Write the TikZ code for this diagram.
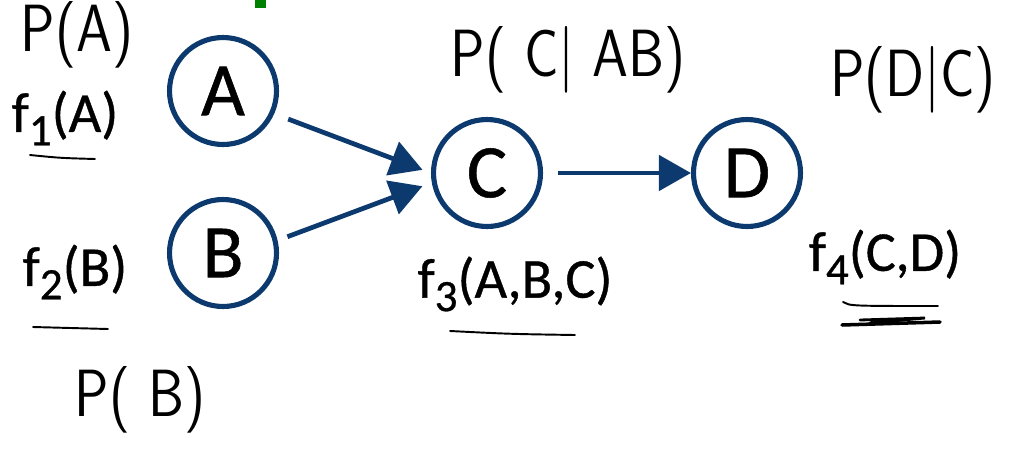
\documentclass[tikz,border=0pt]{standalone}
\usepackage{fontspec}
\setmainfont{Carlito}
\newfontfamily\gillish{Carlito}[FakeBold=0.7]
\usetikzlibrary{arrows.meta}
\definecolor{navy}{RGB}{12,58,110}
\definecolor{marker}{RGB}{0,128,0}
\newcommand{\sub}[1]{\raisebox{-0.24em}{\scalebox{0.8}{#1}}}
\newcommand{\hw}[1]{\scalebox{0.86}[1]{#1}}

\begin{document}
\begin{tikzpicture}[x=0.02cm,y=-0.02cm,
    var/.style={circle,draw=navy,line width=2.9pt,minimum size=2.14cm,inner sep=0pt,font=\gillish\fontsize{43}{46}\selectfont},
    arr/.style={draw=navy,line width=2.7pt,-{Triangle[length=0.64cm,width=0.7cm]}},
    lab/.style={inner sep=0pt,font=\gillish\fontsize{32}{36}\selectfont},
    hand/.style={inner sep=0pt,font=\sffamily\fontsize{38}{40}\selectfont},
    ink/.style={line width=1.1pt,line cap=round}]
    % Frame
    \useasboundingbox (0,0) rectangle (1010,453);
    \fill[marker] (255,0) rectangle (266,8);

    % Variables
    \node[var] (A) at (223,91) {A};
    \node[var] (B) at (223,253) {B};
    \node[var] (C) at (487,173) {C};
    \node[var] (D) at (747,173) {D};

    % Edges
    \draw[arr,shorten <=0.3cm,shorten >=0.18cm] (A.-24) -- (C.180);
    \draw[arr,shorten <=0.21cm,shorten >=0.2cm] (B.13) -- (C.190);
    \draw[arr,shorten <=0.3cm] (C) -- (D);

    % Factors
    \node[lab] (fA) at (65,118) {f\sub{1}(A)};
    \node[lab] (fB) at (75,272) {f\sub{2}(B)};
    \node[lab] (fC) at (515,284) {f\sub{3}(A,B,C)};
    \node[lab] (fD) at (885,257) {f\sub{4}(C,D)};

    % Handwritten notes
    \node[hand] (pA) at (77,35) {\hw{P(A)}};
    \node[hand] (pB) at (140,400) {\hw{P( B)}};
    \node[hand] (pC) at (568,60) {\hw{P( C| AB)}};
    \node[hand] (pD) at (913,80) {\hw{P(D|C)}};

    % Underlines
    \draw[ink] (30,155) .. controls (60,158) .. (95,159);
    \draw[ink] (33,327) -- (108,329);
    \draw[ink] (450,331) .. controls (510,334) .. (575,335);
    \draw[ink] (843,302) .. controls (850,306) .. (938,306);
    \draw[ink,line width=2pt] (842,325) -- (940,322);
    \draw[ink,line width=1.6pt] (860,320) -- (925,318) -- (870,323);
\end{tikzpicture}
\end{document}
